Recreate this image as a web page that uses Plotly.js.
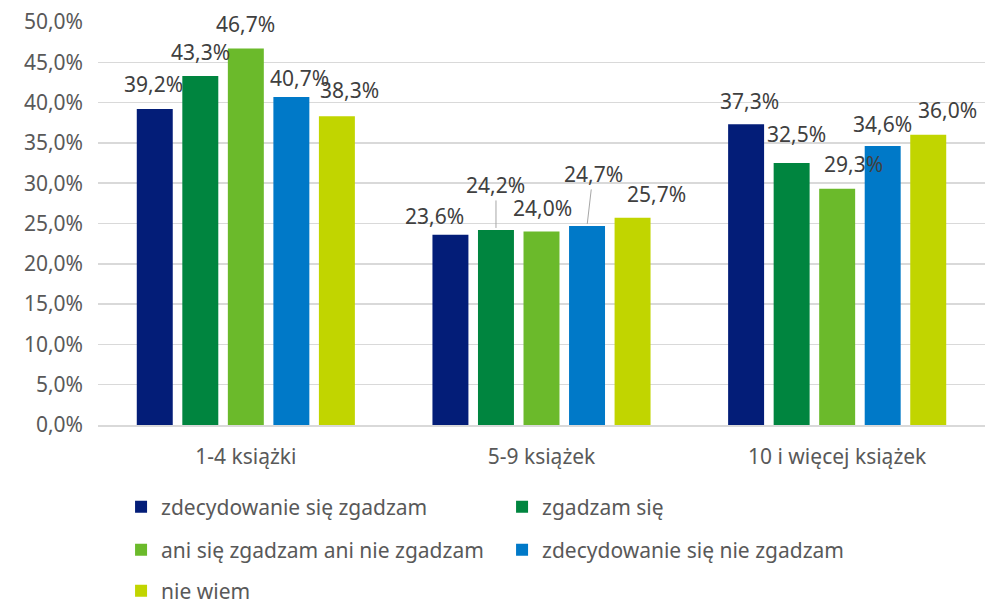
<!DOCTYPE html>
<html><head><meta charset="utf-8">
<script src="https://cdn.plot.ly/plotly-3.0.1.min.js"></script>
<style>html,body{margin:0;padding:0;background:#fff}</style>
</head><body><div id="chart" style="width:992px;height:607px"></div>
<script>
const categories = ['1-4 książki', '5-9 książek', '10 i więcej książek'];
const seriesNames = ['zdecydowanie się zgadzam', 'zgadzam się', 'ani się zgadzam ani nie zgadzam', 'zdecydowanie się nie zgadzam', 'nie wiem'];
const zdecydowanieZgadzam = [39.2, 23.6, 37.3];
const zgadzamSie = [43.3, 24.2, 32.5];
const aniAni = [46.7, 24.0, 29.3];
const zdecydowanieNie = [40.7, 24.7, 34.6];
const nieWiem = [38.3, 25.7, 36.0];

const seriesValues = [zdecydowanieZgadzam, zgadzamSie, aniAni, zdecydowanieNie, nieWiem];
const colors = ['#031d78', '#00853f', '#6bba2b', '#0079c8', '#c1d500'];
const legendIds = ['legend', 'legend', 'legend2', 'legend2', 'legend3'];

// label placement (pixels): [dx, dy above bar top, leader line]
const labelStyle = [
  [[-1, 25, 0], [-16, 19, 0], [3, 23, 0]],
  [[0, 24, 0], [0, 45, 1], [5, 29, 0]],
  [[0, 25, 0], [1, 24, 0], [16, 25, 0]],
  [[8, 19, 0], [6, 52, 1], [0, 22, 0]],
  [[13, 26, 0], [24, 24, 0], [19, 25, 0]]
];

const FONT = 'Noto Sans, sans-serif';
const bargap = 0.23, bargroupgap = 0.21;
const slot = (1 - bargap) / seriesValues.length;

const traces = seriesValues.map((vals, j) => ({
  type: 'bar', name: seriesNames[j], x: categories, y: vals,
  marker: {color: colors[j]}, legend: legendIds[j], hoverinfo: 'skip'
}));

const annotations = [];
seriesValues.forEach((vals, j) => {
  vals.forEach((v, i) => {
    const [dx, dy, lead] = labelStyle[j][i];
    const a = {
      x: i + (j - (seriesValues.length - 1) / 2) * slot, y: v, xref: 'x', yref: 'y',
      text: v.toFixed(1).replace('.', ',') + '%',
      font: {family: FONT, size: 21, color: '#404040'}
    };
    if (lead) {
      Object.assign(a, {showarrow: true, arrowhead: 0, arrowwidth: 1, arrowcolor: '#a6a6a6', ax: dx, ay: -dy, standoff: 2});
    } else {
      Object.assign(a, {showarrow: false, xshift: dx, yshift: dy, yanchor: 'middle'});
    }
    annotations.push(a);
  });
});

const legendBase = {
  orientation: 'h', xref: 'paper', yref: 'paper', x: 0.026, xanchor: 'left', yanchor: 'middle',
  font: {family: FONT, size: 21, color: '#595959'}, entrywidth: 336, entrywidthmode: 'pixels',
  traceorder: 'normal', bgcolor: 'rgba(0,0,0,0)'
};

const layout = {
  width: 992, height: 607,
  margin: {l: 98, r: 7, t: 22, b: 182, autoexpand: false},
  paper_bgcolor: '#fff', plot_bgcolor: '#fff',
  separators: ', ',
  barmode: 'group', bargap: bargap, bargroupgap: bargroupgap,
  font: {family: FONT, size: 21, color: '#595959'},
  xaxis: {type: 'category', showgrid: false, showline: true, linecolor: '#d9d9d9', linewidth: 1.5,
    ticks: '', tickfont: {family: FONT, size: 21, color: '#595959'}, ticklabelstandoff: 12},
  yaxis: {range: [0, 50], dtick: 5, tickformat: '.1f', ticksuffix: '%', showgrid: true,
    gridcolor: '#d9d9d9', gridwidth: 1.5, zeroline: false, showline: false, ticks: '',
    tickfont: {family: FONT, size: 21, color: '#595959'}, ticklabelstandoff: 14},
  showlegend: true,
  legend: Object.assign({}, legendBase, {y: (425 - 507) / 403}),
  legend2: Object.assign({}, legendBase, {y: (425 - 550) / 403}),
  legend3: Object.assign({}, legendBase, {y: (425 - 591) / 403}),
  annotations: annotations
};

Plotly.newPlot('chart', traces, layout, {displayModeBar: false, staticPlot: true});
</script></body></html>
